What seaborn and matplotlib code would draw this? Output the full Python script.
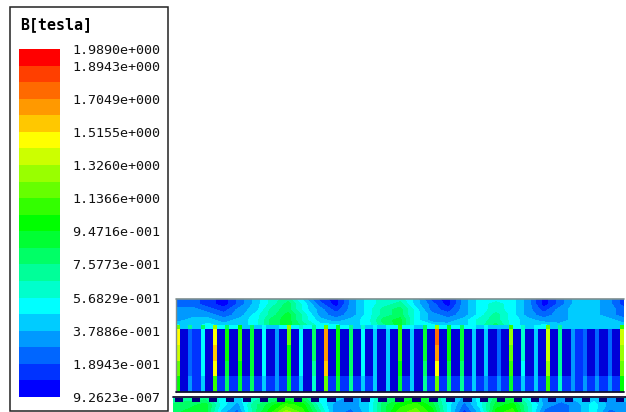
import numpy as np
import seaborn as sns
import matplotlib.pyplot as plt
from matplotlib.colors import ListedColormap
from matplotlib.patches import Rectangle

W, H = 626, 412

# 21 field levels, 0 = lowest, 20 = highest
level_colors = ['#0000ff', '#0033ff', '#0066ff', '#0099ff', '#00ccff', '#00ffff', '#00ffcc',
                '#00ff99', '#00ff66', '#00ff33', '#00ff00', '#33ff00', '#66ff00', '#99ff00',
                '#ccff00', '#ffff00', '#ffc800', '#ff9900', '#ff6a00', '#ff3f00', '#ff0000']
slot_color = '#0000d8'
legend_title = 'B[tesla]'
legend_labels = ['1.9890e+000', '1.8943e+000', '1.7049e+000', '1.5155e+000', '1.3260e+000',
                 '1.1366e+000', '9.4716e-001', '7.5773e-001', '5.6829e-001', '3.7886e-001',
                 '1.8943e-001', '9.2623e-007']
legend_label_bands = [0, 1, 3, 5, 7, 9, 11, 13, 15, 17, 19, 21]

# back iron, top to bottom, one column every 16 px
yoke_rows = [
    [2, 2, 1, 0, 2, 4, 6, 7, 4, 1, 0, 3, 5, 6, 6, 4, 1, 0, 3, 5, 5, 5, 3, 0, 2, 4, 4, 3, 1],
    [2, 2, 1, 0, 2, 4, 6, 8, 5, 2, 0, 3, 5, 6, 7, 4, 2, 0, 3, 5, 6, 5, 3, 0, 2, 4, 4, 3, 1],
    [3, 3, 2, 1, 3, 4, 7, 8, 5, 3, 1, 3, 5, 7, 8, 5, 2, 1, 3, 5, 6, 5, 3, 1, 3, 4, 4, 3, 2],
    [3, 3, 3, 2, 3, 5, 7, 9, 6, 3, 2, 3, 5, 7, 8, 5, 3, 2, 3, 5, 7, 5, 3, 2, 3, 4, 4, 3, 2],
    [3, 4, 4, 3, 4, 5, 8, 9, 6, 4, 3, 4, 5, 8, 9, 5, 3, 3, 4, 6, 7, 5, 4, 3, 3, 4, 4, 4, 3],
    [5, 4, 5, 4, 4, 5, 8, 9, 7, 5, 5, 4, 5, 7, 9, 5, 5, 4, 4, 6, 8, 5, 4, 5, 4, 4, 4, 4, 4],
]

# stator teeth, 37 of them, left to right
tooth_tip = [12, 7, 8, 13, 8, 10, 8, 5, 4, 13, 6, 7, 12, 9, 7, 6, 5, 5, 11, 5, 8, 13, 9, 8,
             5, 5, 4, 11, 6, 5, 12, 7, 4, 4, 4, 4, 11]
tooth_top = [15, 2, 5, 15, 10, 11, 9, 5, 3, 12, 5, 8, 17, 10, 8, 5, 4, 4, 11, 4, 9, 18, 10, 9,
             4, 4, 2, 13, 6, 4, 14, 7, 3, 2, 2, 2, 14]
tooth_upper = [14, 2, 5, 16, 10, 11, 9, 5, 3, 10, 5, 8, 17, 10, 8, 5, 4, 4, 11, 4, 9, 17, 10, 9,
               4, 4, 2, 12, 6, 4, 14, 7, 3, 2, 2, 2, 13]
tooth_lower = [12, 2, 5, 15, 9, 10, 9, 5, 3, 10, 5, 7, 16, 10, 8, 5, 4, 4, 10, 4, 8, 15, 9, 8,
               4, 4, 2, 11, 5, 4, 13, 7, 3, 2, 2, 2, 12]
tooth_bottom = [10, 3, 4, 11, 8, 9, 8, 4, 3, 9, 4, 6, 12, 9, 7, 4, 4, 4, 9, 4, 7, 12, 8, 7,
                4, 3, 3, 9, 4, 4, 11, 6, 3, 3, 3, 3, 10]

# slots between the teeth, 36 of them
gap_tip = [4, 4, 5, 5, 5, 4, 4, 4, 5, 5, 5, 5, 5, 5, 4, 4, 4, 5, 5, 4, 5, 5, 5, 5,
           4, 4, 4, 5, 4, 5, 4, 4, 4, 4, 4, 4]
slot_upper = [0, 1, 0, 0, 0, 0, 0, 0, 0, 0, 0, 0, 0, 0, 0, 0, 0, 0, 0, 0, 0, 0, 0, 0,
              0, 0, 0, 0, 0, 0, 0, 0, 1, 0, 0, 0]
slot_lower = [0, 1, 0, 1, 1, 1, 1, 1, 1, 1, 0, 0, 1, 1, 1, 1, 0, 0, 1, 0, 1, 1, 1, 1,
              1, 1, 1, 1, 1, 1, 1, 1, 1, 1, 1, 1]

# rotor strip under the air gap, top to bottom, one column every 16 px
rotor_rows = [
    [6, 7, 7, 5, 4, 6, 7, 8, 8, 5, 4, 3, 4, 7, 8, 9, 8, 5, 3, 5, 8, 8, 5, 3, 3, 4, 4, 3, 4],
    [8, 8, 9, 5, 3, 7, 9, 11, 10, 6, 3, 3, 4, 8, 10, 11, 9, 5, 2, 5, 9, 10, 6, 3, 2, 3, 5, 3, 3],
    [8, 9, 9, 4, 2, 7, 10, 13, 11, 7, 3, 2, 4, 8, 11, 12, 10, 5, 1, 4, 10, 11, 6, 2, 2, 3, 5, 2, 3],
]

notch_flags = [1, 0] * 26 + [1]


def px_axes(fig, x0, y0, x1, y1):
    return fig.add_axes([x0 / W, 1 - y1 / H, (x1 - x0) / W, (y1 - y0) / H])


def field_heatmap(ax, data, cmap, mask=None):
    sns.heatmap(data, ax=ax, cmap=cmap, vmin=-0.5, vmax=20.5, cbar=False, mask=mask,
                xticklabels=False, yticklabels=False)


def field_contour(ax, rows, cmap):
    rows = np.array(rows)
    ax.contourf(np.arange(rows.shape[1]), np.arange(rows.shape[0]), rows,
                levels=np.arange(-0.5, 21), cmap=cmap)
    ax.invert_yaxis()
    ax.axis('off')


def with_gaps(teeth, slots):
    # tooth, slot, slot, tooth ... so a tooth is one cell and a slot two
    row = []
    for i, tooth in enumerate(teeth):
        row.append(tooth)
        if i < len(slots):
            row.extend([slots[i], slots[i]])
    return row


def main():
    sns.set_theme(style='white')
    plt.rcParams['font.family'] = ['DejaVu Sans Mono']
    cmap = ListedColormap(level_colors)
    teeth_cmap = ListedColormap([slot_color] + level_colors[1:])

    fig = plt.figure(figsize=(W / 100, H / 100), dpi=100, facecolor='white')

    # legend bar
    ax = px_axes(fig, 19, 49, 60, 397)
    bands = np.arange(len(level_colors))[::-1].reshape(-1, 1)
    field_heatmap(ax, bands, cmap)
    ax.yaxis.tick_right()
    ax.set_yticks(legend_label_bands)
    ax.set_yticklabels(legend_labels, fontsize=9.6, color='#111111', rotation=0)
    ax.tick_params(axis='y', length=0, pad=9)

    # back iron
    ax = px_axes(fig, 176, 299, 624, 326)
    field_contour(ax, yoke_rows, cmap)

    # tooth tips
    ax = px_axes(fig, 176, 325, 624, 329)
    field_heatmap(ax, [with_gaps(tooth_tip, gap_tip)], cmap)

    # teeth and slots
    ax = px_axes(fig, 176, 329, 624, 392)
    slot_rows = [slot_upper, slot_upper, slot_upper, slot_lower]
    teeth_rows = [tooth_top, tooth_upper, tooth_lower, tooth_bottom]
    field_heatmap(ax, [with_gaps(t, s) for t, s in zip(teeth_rows, slot_rows)], teeth_cmap)

    # rotor
    ax = px_axes(fig, 173, 398, 626, 412)
    field_contour(ax, rotor_rows, cmap)

    # magnets sitting on the rotor
    ax = px_axes(fig, 175, 398, 624, 402)
    notches = np.array([notch_flags])
    sns.heatmap(notches, ax=ax, cmap=ListedColormap(['#00007a']), cbar=False, mask=notches == 0,
                xticklabels=False, yticklabels=False)
    ax.patch.set_alpha(0)

    # frame and mesh outlines on top, in pixels
    top = fig.add_axes([0, 0, 1, 1], facecolor='none')
    top.set_xlim(0, W)
    top.set_ylim(H, 0)
    top.axis('off')
    top.add_patch(Rectangle((10, 6.5), 157.5, 404, fill=False, ec='#222222', lw=1.1))
    top.text(20, 25, legend_title, fontsize=10.8, fontweight='bold', color='black',
             ha='left', va='center')
    top.plot([176, 624], [298.7, 298.7], color='#7f8f8f', lw=1.2)
    top.plot([176, 176], [298.7, 392], color='#7f8f8f', lw=1.0)
    top.plot([176, 624], [392.3, 392.3], color='#101030', lw=1.3)
    top.plot([173, 626], [397.3, 397.3], color='#101030', lw=1.3)

    fig.savefig('out.png', dpi=100, facecolor='white')


if __name__ == "__main__":
    main()
